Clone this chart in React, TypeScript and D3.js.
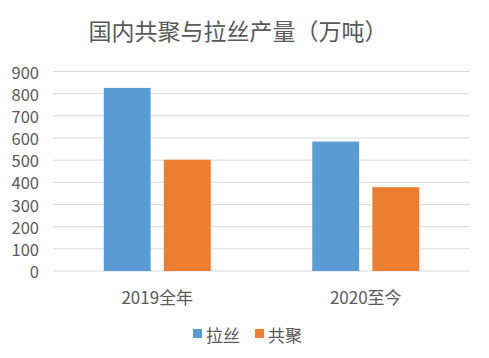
import React from "react";
import * as d3 from "d3";

const categories = ["2019全年", "2020至今"];
const seriesNames = ["拉丝", "共聚"];
const laSi = [826, 584];
const gongJu = [502, 378];
const yTicks = [0, 100, 200, 300, 400, 500, 600, 700, 800, 900];
const colors = ["#5B9BD5", "#ED7D31"];
const title = "国内共聚与拉丝产量（万吨）";

const W = 489;
const H = 358;
const FONT = "'Noto Sans CJK SC', 'Noto Sans', sans-serif";

export default function App() {
  const values = [laSi, gongJu];
  const x0 = d3.scaleBand<string>().domain(categories).range([53, 470]).padding(0);
  const y = d3.scaleLinear().domain([0, 900]).range([271, 71.5]);
  const groupW = x0.bandwidth() * 0.513;
  const x1 = d3.scaleBand<string>().domain(seriesNames).range([0, groupW]).paddingInner(0.22);

  return (
    <svg width={W} height={H} style={{ position: "absolute", left: 0, top: 0, background: "#fff" }} fontFamily={FONT}>
      <rect x={0} y={0} width={W} height={H} fill="#fff" />
      <text x={238} y={30} textAnchor="middle" dominantBaseline="central" fontSize={23} fill="#595959">
        {title}
      </text>
      {yTicks.map((t) => (
        <g key={t}>
          <line x1={53} x2={470} y1={y(t)} y2={y(t)} stroke="#d9d9d9" strokeWidth={1} />
          <text x={39} y={y(t)} textAnchor="end" dominantBaseline="central" fontSize={16.5} fill="#595959">
            {t}
          </text>
        </g>
      ))}
      {categories.map((c, ci) => {
        const gx = (x0(c) as number) + (x0.bandwidth() - groupW) / 2;
        return (
          <g key={c}>
            {seriesNames.map((s, si) => (
              <rect
                key={s}
                x={gx + (x1(s) as number)}
                y={y(values[si][ci])}
                width={x1.bandwidth()}
                height={y(0) - y(values[si][ci])}
                fill={colors[si]}
              />
            ))}
            <text
              x={(x0(c) as number) + x0.bandwidth() / 2}
              y={296}
              textAnchor="middle"
              dominantBaseline="central"
              fontSize={17}
              fill="#595959"
            >
              {c}
            </text>
          </g>
        );
      })}
      {seriesNames.map((s, si) => {
        const lx = si === 0 ? 193 : 255;
        return (
          <g key={s}>
            <rect x={lx} y={329} width={9} height={9} fill={colors[si]} />
            <text x={lx + 13} y={334} dominantBaseline="central" fontSize={17} fill="#595959">
              {s}
            </text>
          </g>
        );
      })}
    </svg>
  );
}
